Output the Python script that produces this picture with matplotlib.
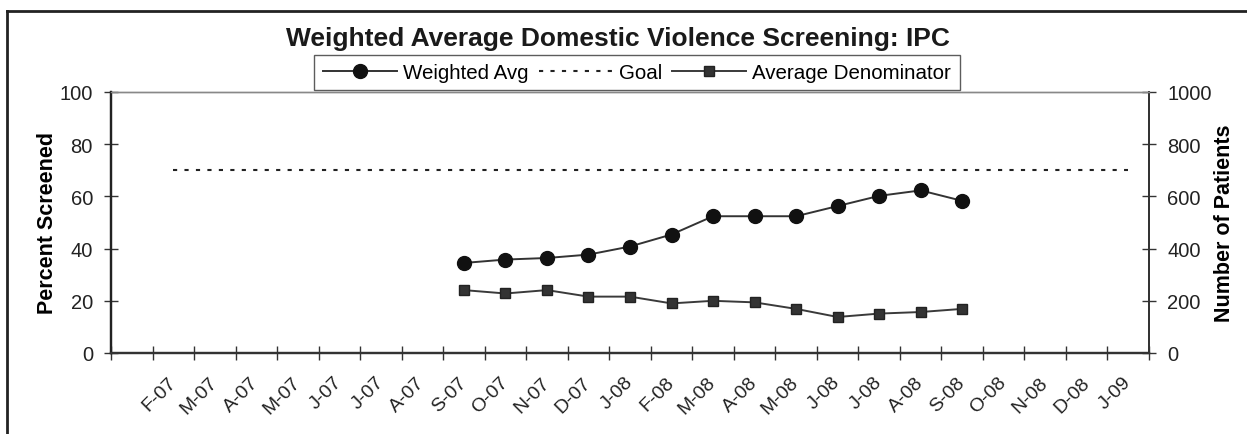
import matplotlib
matplotlib.use("Agg")
import matplotlib.pyplot as plt
from matplotlib.lines import Line2D
from matplotlib.transforms import ScaledTranslation
import numpy as np

plt.rcParams['font.family'] = ['Liberation Sans', 'DejaVu Sans']

# Data
month_labels = ['F-07', 'M-07', 'A-07', 'M-07', 'J-07', 'J-07', 'A-07', 'S-07',
                'O-07', 'N-07', 'D-07', 'J-08', 'F-08', 'M-08', 'A-08', 'M-08',
                'J-08', 'J-08', 'A-08', 'S-08', 'O-08', 'N-08', 'D-08', 'J-09']
label_slots = list(range(1, 25))          # category slots carrying a label
data_slots = list(range(8, 21))           # S-07 .. S-08
weighted_avg = [34.5, 35.8, 36.4, 37.7, 40.8, 45.4, 52.4, 52.4, 52.4, 56.3, 60.2, 62.3, 58.3]
avg_denominator = [241, 228, 241, 216, 216, 190, 200, 194, 169, 138, 151, 157, 169]
goal_slots = list(range(1, 25))
goal = [70] * len(goal_slots)
n_slots = 25

W, H = 1247, 435
fig = plt.figure(figsize=(W / 100, H / 100), dpi=100)
ax = fig.add_axes([111 / W, 1 - 354 / H, (1149 - 111) / W, (354 - 93) / H])
ax2 = ax.twinx()

# Series
xs = np.array(data_slots) + 0.5
l1, = ax.plot(xs, weighted_avg, color='#333333', lw=1.4, marker='o', ms=10,
              mfc='#111111', mec='#111111', label='Weighted Avg', zorder=3)
l2, = ax.plot(np.array(goal_slots) + 0.5, goal, color='#222222', lw=1.5,
              dashes=(2, 3.5), label='Goal')
l3, = ax2.plot(xs, avg_denominator, color='#3a3a3a', lw=1.4, marker='s', ms=7.5,
               mfc='#333333', mec='#222222', label='Average Denominator', zorder=3)

# Axes
ax.set_xlim(0, n_slots)
ax.set_ylim(0, 100)
ax2.set_ylim(0, 1000)
ax.set_yticks(range(0, 101, 20))
ax2.set_yticks(range(0, 1001, 200))
ax.set_xticks(range(0, n_slots + 1))
ax.set_xticklabels([])
ax.set_xticks(np.array(label_slots) + 0.5, minor=True)
ax.set_xticklabels(month_labels, minor=True, rotation=45, ha='right', va='center',
                   rotation_mode='anchor', fontsize=14, color='#222222')
for lab in ax.get_xticklabels(minor=True):
    lab.set_transform(lab.get_transform() + ScaledTranslation(-0.13, 0, fig.dpi_scale_trans))

ax.tick_params(axis='x', which='major', direction='inout', length=10, width=1, color='#333333')
ax.tick_params(axis='x', which='minor', length=0, pad=19)
ax.tick_params(axis='y', direction='inout', length=10, width=1, color='#333333',
               labelsize=14.5, labelcolor='#222222', pad=8)
ax2.tick_params(axis='y', direction='inout', length=10, width=1, color='#333333',
                labelsize=14.5, labelcolor='#222222', pad=8)

for a in (ax, ax2):
    a.spines['top'].set_color('#888888')
    a.spines['top'].set_linewidth(1)
    a.spines['left'].set_color('#222222')
    a.spines['left'].set_linewidth(1.6)
    a.spines['bottom'].set_color('#333333')
    a.spines['bottom'].set_linewidth(1.6)
    a.spines['right'].set_color('#333333')
    a.spines['right'].set_linewidth(1.3)

ax.set_ylabel('Percent Screened', fontsize=15.5, fontweight='bold', labelpad=1)
ax2.set_ylabel('Number of Patients', fontsize=15.5, fontweight='bold', labelpad=2)

# Title
fig.text(618 / W, 1 - 39 / H, 'Weighted Average Domestic Violence Screening: IPC',
         ha='center', va='center', fontsize=19, fontweight='bold', color='#1a1a1a')

# Legend
leg = fig.legend(handles=[l1, l2, l3], loc='upper center', ncol=3,
                 bbox_to_anchor=(637 / W, 1 - 56 / H), fontsize=14.8,
                 frameon=True, fancybox=False, borderpad=0.4, handlelength=3.6,
                 handletextpad=0.3, columnspacing=0.5, borderaxespad=0)
leg.get_frame().set_edgecolor('#333333')
leg.get_frame().set_linewidth(1)

# Outer frame (top and left edges of the chart area)
fig.add_artist(Line2D([7 / W, 1], [1 - 12 / H, 1 - 12 / H], color='#222222', lw=2,
                      transform=fig.transFigure))
fig.add_artist(Line2D([7 / W, 7 / W], [1 - 12 / H, 0], color='#222222', lw=2,
                      transform=fig.transFigure))

fig.savefig('out.png', dpi=100)
